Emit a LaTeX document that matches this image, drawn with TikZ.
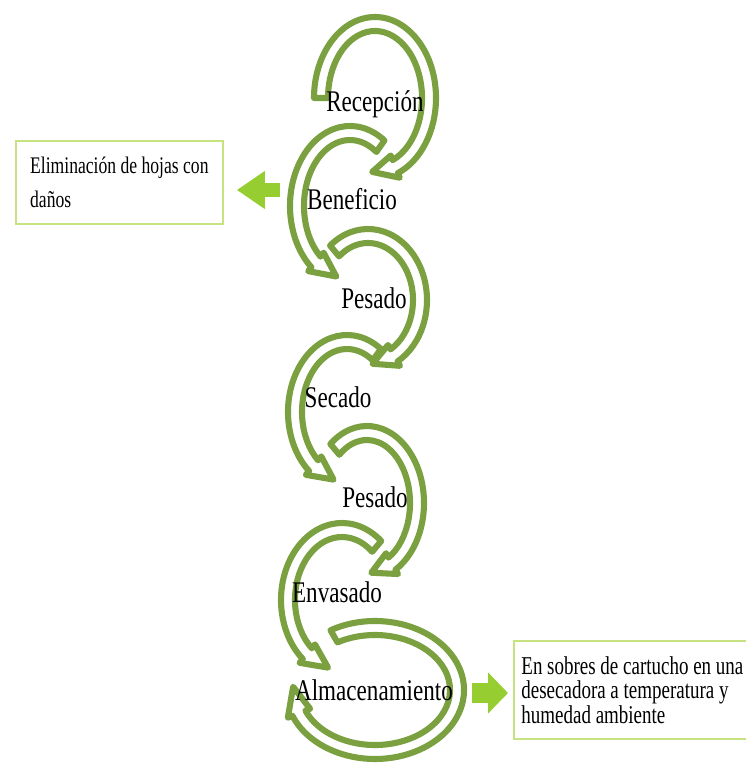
\documentclass[tikz,border=0pt]{standalone}
\usepackage{fontspec}
\usepackage{tikz}
\usetikzlibrary{calc, arrows.meta}
\newfontfamily\etiqfont[FakeStretch=0.77]{Liberation Serif}
\newfontfamily\cajafont[FakeStretch=0.74]{Liberation Serif}
\definecolor{verdeanillo}{RGB}{122,160,64}
\definecolor{verdelima}{RGB}{150,206,50}
\definecolor{bordecaja}{RGB}{200,226,130}

% flecha circular hueca: centro, radio x, radio y, inicio, base de la punta, punta
\def\banda{7}
\def\punta{12}
\newcommand{\flechacirc}[6]{%
  \filldraw[anillo] ($(#1)+(#4:{#2+\banda} and {#3+\banda})$)
    arc[start angle=#4, end angle=#5, x radius=#2+\banda, y radius=#3+\banda]
    -- ($(#1)+(#5:{#2+\punta} and {#3+\punta})$)
    -- ($(#1)+(#6:{#2} and {#3})$)
    -- ($(#1)+(#5:{#2-\punta} and {#3-\punta})$)
    -- ($(#1)+(#5:{#2-\banda} and {#3-\banda})$)
    arc[start angle=#5, end angle=#4, x radius=#2-\banda, y radius=#3-\banda]
    -- cycle;}

\begin{document}
\begin{tikzpicture}[x=0.03cm, y=0.03cm,
    anillo/.style={draw=verdeanillo, fill=white, line width=5.2pt, line join=round},
    etiq/.style={anchor=base, inner sep=0pt, font=\etiqfont\fontsize{25.6}{28}\selectfont},
    caja/.style={draw=bordecaja, line width=1.5pt, anchor=north west, align=left},
    flechaizq/.style={draw=verdelima, line width=0.42cm, -{Triangle[length=0.84cm, width=1.08cm]}},
    flechader/.style={draw=verdelima, line width=0.6cm, -{Triangle[length=0.6cm, width=1.2cm]}}]
    \useasboundingbox (0,0) rectangle (745,-768);

    % Anillos (de abajo hacia arriba)
    \flechacirc{375,-690}{82}{62}{120}{-158}{-183}
    \flechacirc{342,-600}{54}{70}{50}{230}{255}
    \flechacirc{367,-503}{50}{70}{130}{-60}{-85}
    \flechacirc{347,-412}{52}{70}{55}{230}{255}
    \flechacirc{368,-300}{52}{64}{130}{-60}{-85}
    \flechacirc{350,-206}{53}{73}{55}{230}{255}
    \flechacirc{375,-98}{54}{74}{180}{-68}{-93}

    % Etapas
    \node[etiq] (rec) at (375,-112) {Recepción};
    \node[etiq] (ben) at (352,-210) {Beneficio};
    \node[etiq] (pes1) at (374,-308) {Pesado};
    \node[etiq] (sec) at (338,-407) {Secado};
    \node[etiq] (pes2) at (375,-507) {Pesado};
    \node[etiq] (env) at (337,-602) {Envasado};
    \node[etiq] (alm) at (374,-700) {Almacenamiento};

    % Notas
    \node[caja, minimum width=6.21cm, minimum height=2.49cm,
        font=\cajafont\fontsize{20.3}{29}\selectfont] (elim) at (15,-140)
        {Eliminación de hojas con\\daños};
    \node[caja, minimum width=7.11cm, minimum height=2.94cm,
        font=\cajafont\fontsize{21.9}{21}\selectfont] (sobre) at (513,-640)
        {En sobres de cartucho en una\\desecadora a temperatura y\\humedad ambiente};

    % Flechas hacia las notas
    \coordinate (bencola) at (280,-190);
    \coordinate (almcola) at (472,-693);
    \draw[flechaizq, shorten >=0.39cm] (bencola) -- (bencola -| elim.east);
    \draw[flechader, shorten >=0.15cm] (almcola) -- (almcola -| sobre.west);
\end{tikzpicture}
\end{document}
